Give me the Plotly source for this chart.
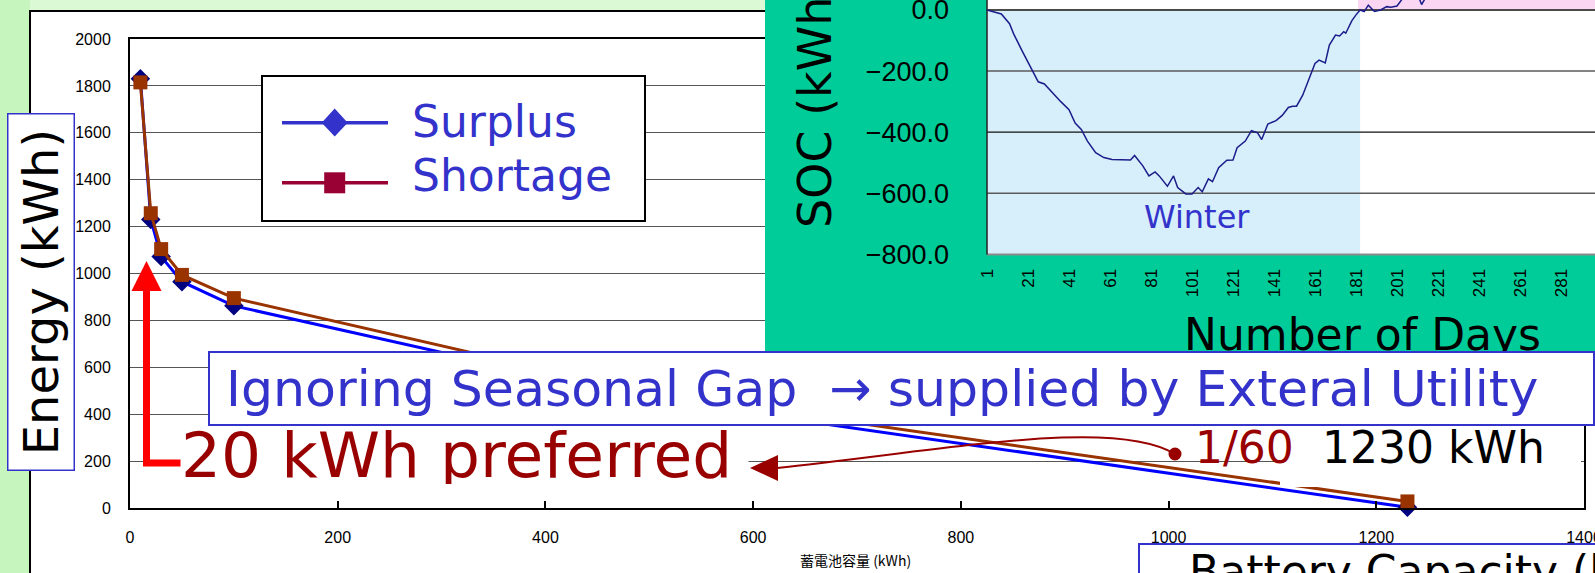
import plotly.graph_objects as go

W, H = 1595, 573


def px(x):
    return x / W


def py(y):
    return 1 - y / H


def ppath(cmds):
    out = []
    for c in cmds:
        if isinstance(c, str):
            out.append(c)
        else:
            out.append(f"{px(c[0]):.5f},{py(c[1]):.5f}")
    return " ".join(out)


# ---------------- data ----------------
capacity = [10, 20, 30, 50, 100, 500, 1230]
surplus = [1830, 1230, 1072, 965, 862, 465, 3]
shortage = [1815, 1257, 1104, 994, 895, 488, 28]

soc_days = [1, 8, 12, 14, 18, 22, 26, 29, 33, 37, 41, 44, 47, 50, 54, 58, 62, 67, 71, 73,
            77, 80, 83, 85, 89, 92, 94, 98, 101, 104, 106, 109, 111, 114, 118, 121, 123,
            127, 130, 133, 135, 138, 142, 145, 148, 150, 152, 155, 159, 161, 163, 166, 168,
            171, 173, 175, 176, 179, 181, 183, 185, 187, 190, 193, 196, 198, 201, 202, 204,
            208, 212, 213, 215, 218]
soc_values = [0, -13, -45, -78, -132, -186, -235, -242, -272, -300, -326, -370, -391, -429,
              -467, -483, -489, -489, -491, -476, -510, -543, -530, -543, -577, -543, -581,
              -602, -602, -581, -595, -553, -562, -516, -492, -491, -451, -429, -395, -402,
              -424, -373, -362, -345, -319, -315, -315, -279, -208, -175, -164, -173, -115,
              -82, -85, -71, -76, -35, -16, 0, -5, 16, -5, 0, 11, 9, 13, 22, 40, 70, 35, 18,
              40, 75]

main_xticks = [0, 200, 400, 600, 800, 1000, 1200, 1400]
main_yticks = [0, 200, 400, 600, 800, 1000, 1200, 1400, 1600, 1800, 2000]
soc_xticks = [1, 21, 41, 61, 81, 101, 121, 141, 161, 181, 201, 221, 241, 261, 281, 301]
soc_yticks = [0, -200, -400, -600, -800]
soc_yticktext = ["0.0", "\u2212200.0", "\u2212400.0", "\u2212600.0", "\u2212800.0"]

COMIC = "Comic Sans MS, DejaVu Sans, sans-serif"
ARIAL = "Liberation Sans, Arial, sans-serif"
BLUE_TXT = "#3333cc"
DARKRED = "#990000"

fig = go.Figure()
fig.add_trace(go.Scatter(x=capacity, y=surplus, mode="lines+markers", name="Surplus",
                         line=dict(color="#0000ff", width=3),
                         marker=dict(symbol="diamond", size=15, color="#000080"),
                         cliponaxis=False, xaxis="x", yaxis="y", showlegend=False))
fig.add_trace(go.Scatter(x=capacity, y=shortage, mode="lines+markers", name="Shortage",
                         line=dict(color="#993300", width=3),
                         marker=dict(symbol="square", size=14, color="#993300"),
                         cliponaxis=False, xaxis="x", yaxis="y", showlegend=False))
fig.add_trace(go.Scatter(x=soc_days, y=soc_values, mode="lines", name="SOC",
                         line=dict(color="#1c1c8a", width=1.5),
                         xaxis="x2", yaxis="y2", showlegend=False))

# inset axis mapping (pixel layout)
day_left = 1 - (987 - 765) / 2.05
day_right = 1 + (1595 - 987) / 2.05
v_per_px = 200 / 61.1
soc_top = 10 * v_per_px
soc_bottom = -(356 - 10) * v_per_px

shapes = []
# background panels (paper, below)
shapes.append(dict(type="rect", xref="paper", yref="paper", layer="below",
                   x0=px(30), x1=px(800), y0=py(0), y1=py(11),
                   fillcolor="#dcf9d5", line=dict(width=0)))
shapes.append(dict(type="rect", xref="paper", yref="paper", layer="below",
                   x0=px(30), x1=px(1700), y0=py(11), y1=py(700),
                   fillcolor="white", line=dict(color="black", width=2)))

# inset decorations (x2/y2, below traces of inset, above main subplot)
shapes.append(dict(type="rect", xref="x2", yref="y2", layer="below",
                   x0=1, x1=400, y0=-800, y1=200, fillcolor="white", line=dict(width=0)))
shapes.append(dict(type="rect", xref="x2", yref="y2", layer="below",
                   x0=1, x1=183, y0=-800, y1=0, fillcolor="#d6effb", line=dict(width=0)))
shapes.append(dict(type="rect", xref="x2", yref="y2", layer="below",
                   x0=182, x1=400, y0=0, y1=200, fillcolor="#fad6f3", line=dict(width=0)))
for v, c, w in [(0, "#4a4a4a", 2), (-200, "#5a5a5a", 1.5), (-400, "#111111", 1.2),
                (-600, "#5a5a5a", 1.5)]:
    shapes.append(dict(type="line", xref="x2", yref="y2", layer="below",
                       x0=1, x1=400, y0=v, y1=v, line=dict(color=c, width=w)))
shapes.append(dict(type="line", xref="x2", yref="y2", layer="below",
                   x0=1, x1=400, y0=-800, y1=-800, line=dict(color="#8a8a8a", width=2)))
shapes.append(dict(type="line", xref="x2", yref="y2", layer="below",
                   x0=1, x1=1, y0=-800, y1=200, line=dict(color="#222222", width=1.5)))

# legend box (above)
shapes.append(dict(type="rect", xref="paper", yref="paper", layer="above",
                   x0=px(262), x1=px(645), y0=py(76), y1=py(221),
                   fillcolor="white", line=dict(color="black", width=2)))
shapes.append(dict(type="line", xref="paper", yref="paper", layer="above",
                   x0=px(282), x1=px(388), y0=py(122.7), y1=py(122.7),
                   line=dict(color="#3333cc", width=3.5)))
shapes.append(dict(type="path", xref="paper", yref="paper", layer="above",
                   path=ppath(["M", (321.7, 122.7), "L", (334.7, 108.5), "L", (347.7, 122.7),
                               "L", (334.7, 136.5), "Z"]),
                   fillcolor="#3333cc", line=dict(width=0)))
shapes.append(dict(type="line", xref="paper", yref="paper", layer="above",
                   x0=px(282), x1=px(388), y0=py(182.7), y1=py(182.7),
                   line=dict(color="#990033", width=3.5)))
shapes.append(dict(type="rect", xref="paper", yref="paper", layer="above",
                   x0=px(324.2), x1=px(345.2), y0=py(172.3), y1=py(193.3),
                   fillcolor="#990033", line=dict(width=0)))

# red arrow to 20 kWh
shapes.append(dict(type="path", xref="paper", yref="paper", layer="above",
                   path=ppath(["M", (181, 463), "L", (146.5, 463), "L", (146.5, 288)]),
                   line=dict(color="#ff0000", width=7)))
shapes.append(dict(type="path", xref="paper", yref="paper", layer="above",
                   path=ppath(["M", (146.5, 261), "L", (131.5, 291), "L", (161.5, 291), "Z"]),
                   fillcolor="#ff0000", line=dict(width=0)))

# white patch behind "1230 kWh"
shapes.append(dict(type="rect", xref="paper", yref="paper", layer="above",
                   x0=px(1280), x1=px(1581), y0=py(428), y1=py(487),
                   fillcolor="white", line=dict(width=0)))

# curved dark red arrow
shapes.append(dict(type="path", xref="paper", yref="paper", layer="above",
                   path=ppath(["M", (1175, 454), "C", (1115, 418), (960, 448), (777, 468)]),
                   line=dict(color=DARKRED, width=2)))
shapes.append(dict(type="path", xref="paper", yref="paper", layer="above",
                   path=ppath(["M", (750, 468), "L", (778, 455), "L", (778, 481), "Z"]),
                   fillcolor=DARKRED, line=dict(width=0)))
shapes.append(dict(type="circle", xref="paper", yref="paper", layer="above",
                   x0=px(1168.5), x1=px(1181.5), y0=py(460.5), y1=py(447.5),
                   fillcolor=DARKRED, line=dict(width=0)))

# Battery capacity box at the bottom
shapes.append(dict(type="rect", xref="paper", yref="paper", layer="above",
                   x0=px(1139), x1=px(1700), y0=py(544), y1=py(700),
                   fillcolor="white", line=dict(color="#3333cc", width=2)))


def ann(text, x, y, size, color, family=COMIC, xanchor="center", yanchor="middle", **kw):
    return dict(text=text, x=px(x), y=py(y), xref="paper", yref="paper", showarrow=False,
                font=dict(family=family, size=size, color=color),
                xanchor=xanchor, yanchor=yanchor, **kw)


annotations = [
    ann("SOC (kWh)", 815, 104, 46, "black", textangle=-90),
    ann("Number of Days", 1362, 334, 44, "black"),
    ann("Winter", 1197, 217, 32, BLUE_TXT),
    ann("蓄電池容量 (kWh)", 855, 560, 14, "black", family="Noto Sans CJK JP, sans-serif"),
    ann("Surplus", 410, 122, 44, BLUE_TXT, xanchor="left"),
    ann("Shortage", 410, 176, 44, BLUE_TXT, xanchor="left"),
    ann("Energy (kWh)", 40.5, 292.5, 48, "black", textangle=-90, bgcolor="white",
        bordercolor="#3333cc", borderwidth=1.5, borderpad=0, width=355, height=65),
    ann("20 kWh preferred", 464.5, 455, 63, DARKRED, bgcolor="white", borderpad=0,
        width=567, height=58, align="left"),
    ann("1/60", 1244, 447, 44, DARKRED),
    ann("1230 kWh", 1320, 447, 44, "black", xanchor="left"),
    ann("Battery Capacity (kWh)", 1187, 571, 44, "black", xanchor="left"),
    ann("\u00a0Ignoring Seasonal Gap \u00a0\u2192 supplied by Exteral Utility", 901.5, 388.5,
        50.5, BLUE_TXT, bgcolor="white", bordercolor="#3333cc", borderwidth=2, borderpad=0,
        width=1383, height=71, align="left"),
]

fig.update_layout(
    template="plotly",
    width=W, height=H, autosize=False,
    margin=dict(l=0, r=0, t=0, b=0, pad=0, autoexpand=False),
    paper_bgcolor="#c6f5be",
    plot_bgcolor="#00cc99",
    showlegend=False,
    xaxis=dict(domain=[px(130), px(1584)], range=[0, 1400], tickvals=main_xticks,
               ticks="inside", ticklen=7, tickcolor="black", tickwidth=1.5,
               showline=True, linecolor="black", linewidth=2, mirror=True,
               showgrid=False, zeroline=False, anchor="y", automargin=False,
               ticklabeloverflow="allow",
               tickfont=dict(family=ARIAL, size=16, color="black"), ticklabelstandoff=14),
    yaxis=dict(domain=[py(508), py(39)], range=[0, 2000], tickvals=main_yticks,
               ticks="", showline=True, linecolor="black", linewidth=2, mirror=True,
               showgrid=True, gridcolor="#555555", gridwidth=1, zeroline=False, anchor="x",
               automargin=False, ticklabeloverflow="allow",
               tickfont=dict(family=ARIAL, size=16, color="black"), ticklabelstandoff=14),
    xaxis2=dict(domain=[px(765), 1], range=[day_left, day_right], anchor="free",
                position=py(254.4), tickvals=soc_xticks, tickangle=-90, ticks="",
                showgrid=False, zeroline=False, showline=False, automargin=False,
                ticklabeloverflow="allow",
                tickfont=dict(family=ARIAL, size=17, color="black"), ticklabelstandoff=10),
    yaxis2=dict(domain=[py(356), 1], range=[soc_bottom, soc_top], anchor="free",
                position=px(987), tickvals=soc_yticks, ticktext=soc_yticktext, ticks="",
                showgrid=False, zeroline=False, showline=False, automargin=False,
                ticklabeloverflow="allow",
                tickfont=dict(family=ARIAL, size=27, color="black"), ticklabelstandoff=38),
    shapes=shapes,
    annotations=annotations,
)

fig.write_html("out.html")
